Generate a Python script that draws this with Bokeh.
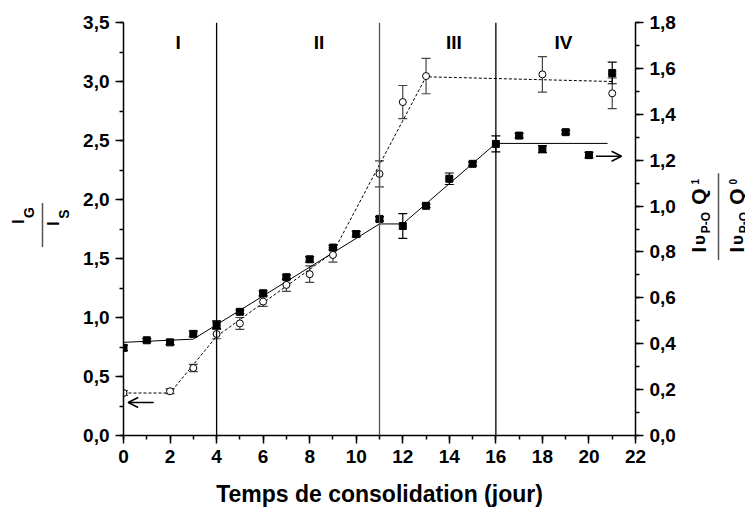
import math
from bokeh.plotting import figure
from bokeh.layouts import row
from bokeh.models import (Range1d, LinearAxis, SingleIntervalTicker, CustomJSTickFormatter,
                          ColumnDataSource, Whisker, TeeHead, Span, Label, Arrow, OpenHead)
from bokeh.core.properties import value
from bokeh.embed import file_html
from bokeh.resources import INLINE

# ---------------- data ----------------
# filled squares (right axis: I_vP-O Q1 / I_vP-O Q0)
days_sq = [0, 1, 2, 3, 4, 5, 6, 7, 8, 9, 10, 11, 12, 13, 14, 15, 16, 17, 18, 19, 20, 21]
ratio_sq = [0.382, 0.415, 0.406, 0.443, 0.483, 0.539, 0.620, 0.690, 0.768, 0.819, 0.878, 0.944,
            0.913, 1.001, 1.119, 1.184, 1.271, 1.307, 1.248, 1.322, 1.222, 1.580]
err_sq = [0.012, 0.007, 0.010, 0.012, 0.017, 0.008, 0.010, 0.010, 0.012, 0.010, 0.012, 0.010,
          0.054, 0.008, 0.025, 0.008, 0.035, 0.010, 0.015, 0.008, 0.012, 0.047]
# open circles (left axis: I_G / I_S)
days_ci = [0, 2, 3, 4, 5, 6, 7, 8, 9, 11, 12, 13, 18, 21]
ratio_ci = [0.36, 0.375, 0.572, 0.86, 0.95, 1.135, 1.276, 1.367, 1.53, 2.217, 2.826, 3.046, 3.06, 2.90]
err_ci = [0.02, 0.02, 0.03, 0.04, 0.05, 0.04, 0.055, 0.07, 0.06, 0.11, 0.14, 0.15, 0.15, 0.13]
# piecewise fits
fit_sq_x = [0, 3, 11, 12, 16, 20.8]
fit_sq_y = [0.406, 0.42, 0.922, 0.922, 1.273, 1.273]
fit_ci_x = [0, 2, 4, 9, 13, 21]
fit_ci_y = [0.36, 0.36, 0.84, 1.55, 3.04, 3.00]
# phases
phase_bounds = [4, 11, 16]
phase_names = ["I", "II", "III", "IV"]
phase_name_x = [2.35, 8.4, 14.2, 18.9]
phase_name_y = 3.33
# axis title
x_title = "Temps de consolidation (jour)"

FONT = "Liberation Sans"
H = 509
LEFT_W = 75
MAIN_W = 607
RIGHT_W = 63
TOP = 22
BOTTOM = 73

p = figure(width=MAIN_W, height=H, x_range=Range1d(0, 22), y_range=Range1d(0, 3.5),
           output_backend="svg", toolbar_location=None,
           min_border_left=48, min_border_right=47, min_border_top=TOP, min_border_bottom=BOTTOM)
p.extra_y_ranges = {"right": Range1d(0, 1.8)}
p.outline_line_color = None
p.xgrid.visible = False
p.ygrid.visible = False

fmt = CustomJSTickFormatter(code="return tick.toFixed(1).replace('.', ',');")

def style_axis(ax):
    ax.axis_line_width = 1.5
    ax.axis_line_color = "black"
    ax.major_tick_line_width = 1.5
    ax.minor_tick_line_width = 1.5
    ax.major_tick_out = 8
    ax.major_tick_in = 0
    ax.minor_tick_out = 4
    ax.minor_tick_in = 0
    ax.major_label_text_font = FONT
    ax.major_label_text_font_style = "bold"
    ax.major_label_text_font_size = "19px"
    ax.major_label_text_color = "black"
    ax.major_label_standoff = 6

xa = p.xaxis[0]
xa.ticker = SingleIntervalTicker(interval=2, num_minor_ticks=2)
style_axis(xa)
xa.axis_label = x_title
xa.axis_label_text_font = FONT
xa.axis_label_text_font_style = "bold"
xa.axis_label_text_font_size = "23px"
xa.axis_label_text_color = "black"
xa.axis_label_standoff = 15

ya = p.yaxis[0]
ya.ticker = SingleIntervalTicker(interval=0.5, num_minor_ticks=2)
ya.formatter = fmt
style_axis(ya)

yr = LinearAxis(y_range_name="right")
yr.ticker = SingleIntervalTicker(interval=0.2, num_minor_ticks=2)
yr.formatter = fmt
style_axis(yr)
p.add_layout(yr, "right")

# phase separators
for b in phase_bounds:
    col = "#555555" if b == 11 else "black"
    p.add_layout(Span(location=b, dimension="height", line_color=col, line_width=1.3))

# fits
p.line(fit_ci_x, fit_ci_y, line_color="black", line_width=1, line_dash="3 2")
p.line(fit_sq_x, fit_sq_y, line_color="black", line_width=1, y_range_name="right")

# error bars
src_sq = ColumnDataSource(dict(x=days_sq, y=ratio_sq,
                               lo=[v - e for v, e in zip(ratio_sq, err_sq)],
                               hi=[v + e for v, e in zip(ratio_sq, err_sq)]))
src_ci = ColumnDataSource(dict(x=days_ci, y=ratio_ci,
                               lo=[v - e for v, e in zip(ratio_ci, err_ci)],
                               hi=[v + e for v, e in zip(ratio_ci, err_ci)]))
p.add_layout(Whisker(source=src_ci, base="x", lower="lo", upper="hi", line_color="#444444",
                     line_width=1.2,
                     upper_head=TeeHead(size=9, line_color="#444444", line_width=1.2),
                     lower_head=TeeHead(size=9, line_color="#444444", line_width=1.2)))
p.add_layout(Whisker(source=src_sq, base="x", lower="lo", upper="hi", line_color="black",
                     line_width=1.2, y_range_name="right",
                     upper_head=TeeHead(size=9, line_color="black", line_width=1.2),
                     lower_head=TeeHead(size=9, line_color="black", line_width=1.2)))

# markers
p.scatter("x", "y", source=src_sq, marker="square", size=7, fill_color="black",
          line_color="black", y_range_name="right")
p.scatter("x", "y", source=src_ci, marker="circle", size=7, fill_color="white",
          line_color="black", line_width=1)

# axis-direction arrows
p.add_layout(Arrow(end=OpenHead(size=10, line_width=1.5, line_color="black"),
                   x_start=1.3, y_start=0.28, x_end=0.2, y_end=0.28,
                   line_width=1.5, line_color="black"))
p.add_layout(Arrow(end=OpenHead(size=10, line_width=1.5, line_color="black"),
                   x_start=20.3, y_start=1.217, x_end=21.4, y_end=1.217,
                   line_width=1.5, line_color="black", y_range_name="right"))

# phase names
for nx, nm in zip(phase_name_x, phase_names):
    p.add_layout(Label(x=nx, y=phase_name_y, text=nm, text_align="center", text_baseline="middle",
                       text_font=FONT, text_font_style="bold", text_font_size="19px",
                       text_color="black"))


# ---- side panels holding the rotated fraction titles (pixel coordinates) ----
# the row aligns their frames with the main frame (page y TOP .. H-BOTTOM)
def side_fig(w):
    f = figure(width=w, height=H, x_range=Range1d(0, w), y_range=Range1d(BOTTOM, H - TOP),
               output_backend="svg", toolbar_location=None, x_axis_type=None, y_axis_type=None,
               min_border=0, min_border_left=0, min_border_right=0,
               min_border_top=0, min_border_bottom=0)
    f.outline_line_color = None
    f.xgrid.visible = False
    f.ygrid.visible = False
    return f


def rot(f, x0, text, size, cx, cy):
    # text rotated 90 deg counter-clockwise, centred on page pixel (cx, cy)
    f.text(x=[cx - x0], y=[H - cy], text=[text], angle=math.pi / 2,
           text_align="center", text_baseline="middle",
           text_font=value(FONT), text_font_style="bold", text_font_size=value(f"{size}px"),
           text_color="black")


def bar(f, x0, px, py0, py1):
    f.line([px - x0, px - x0], [H - py0, H - py1], line_color="#555555", line_width=1.5)


# left: I_G / I_S
lf = side_fig(LEFT_W)
rot(lf, 0, "I", 16, 17.5, 221.5)
rot(lf, 0, "G", 14, 28, 212.5)
bar(lf, 0, 42, 203, 247)
rot(lf, 0, "I", 16, 52.5, 223.5)
rot(lf, 0, "S", 14, 63, 214)

# right: I_vP-O Q^1 / I_vP-O Q^0
X0 = LEFT_W + MAIN_W
rf = side_fig(RIGHT_W)
for off, sup in ((0, "1"), (38, "0")):
    rot(rf, X0, "I", 21, 697.5 + off, 250)
    rot(rf, X0, "υ", 17, 699 + off, 240)
    rot(rf, X0, "P-O", 12, 705.5 + off, 222.5)
    rot(rf, X0, "Q", 21, 697.5 + off, 196.5)
    rot(rf, X0, sup, 10, 694 + off, 181.5)
bar(rf, X0, 718, 173, 260)

layout = row(lf, p, rf, spacing=0)
open("out.html", "w").write(file_html(layout, INLINE))
